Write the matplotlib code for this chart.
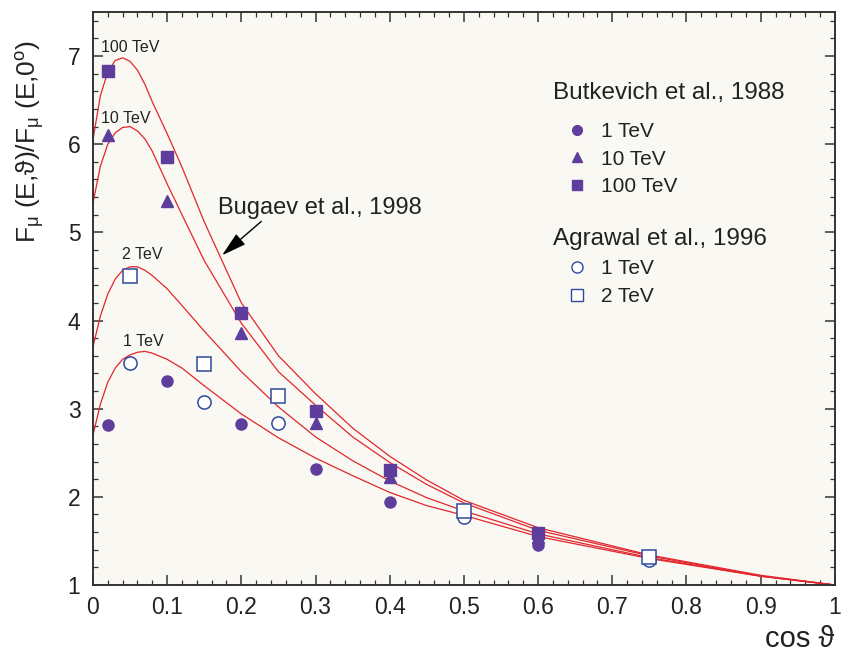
import matplotlib
matplotlib.use("Agg")
import matplotlib.pyplot as plt
from matplotlib.lines import Line2D
from matplotlib.ticker import MultipleLocator

plt.rcParams['font.family'] = ['Liberation Sans', 'DejaVu Sans']
plt.rcParams['mathtext.fontset'] = 'custom'
plt.rcParams['mathtext.rm'] = 'Liberation Sans'
plt.rcParams['mathtext.it'] = 'Liberation Sans'

# Bugaev et al., 1998 curves
curve_x = [0, 0.01, 0.02, 0.03, 0.04, 0.05, 0.06, 0.07, 0.08, 0.1, 0.12, 0.15,
           0.2, 0.25, 0.3, 0.35, 0.4, 0.45, 0.5, 0.6, 0.75, 0.9, 1.0]
curve_100tev = [6.05, 6.55, 6.82, 6.95, 6.98, 6.94, 6.84, 6.68, 6.48, 6.12, 5.74, 5.12,
                4.2, 3.6, 3.17, 2.78, 2.46, 2.19, 1.96, 1.65, 1.34, 1.11, 1.0]
curve_10tev = [5.33, 5.75, 6.0, 6.13, 6.19, 6.2, 6.15, 6.06, 5.92, 5.55, 5.2, 4.68,
               3.97, 3.42, 3.04, 2.68, 2.39, 2.14, 1.93, 1.62, 1.33, 1.1, 1.0]
curve_2tev = [3.70, 4.05, 4.3, 4.47, 4.57, 4.61, 4.61, 4.57, 4.51, 4.36, 4.17, 3.88,
              3.42, 3.02, 2.68, 2.41, 2.18, 1.99, 1.84, 1.58, 1.31, 1.1, 1.0]
curve_1tev = [2.70, 3.05, 3.3, 3.46, 3.56, 3.61, 3.64, 3.65, 3.63, 3.56, 3.46, 3.26,
              2.94, 2.67, 2.44, 2.24, 2.05, 1.9, 1.79, 1.55, 1.30, 1.1, 1.0]

# Butkevich et al., 1988
butk_x = [0.02, 0.1, 0.2, 0.3, 0.4, 0.6]
butk_1tev = [2.82, 3.31, 2.83, 2.32, 1.94, 1.45]
butk_10tev = [6.10, 5.36, 3.86, 2.84, 2.22, 1.55]
butk_100tev = [6.83, 5.85, 4.08, 2.97, 2.31, 1.59]

# Agrawal et al., 1996
agr_x = [0.05, 0.15, 0.25, 0.5, 0.75]
agr_1tev = [3.52, 3.08, 2.84, 1.77, 1.28]
agr_2tev = [4.51, 3.51, 3.14, 1.84, 1.32]

curve_labels = ['100 TeV', '10 TeV', '2 TeV', '1 TeV']
label_pos = [(0.011, 7.10), (0.011, 6.29), (0.039, 4.75), (0.040, 3.76)]

red = '#e3262d'
purple = '#5e3d9c'
blue = '#2f4a9e'
ink = '#222222'

fig = plt.figure(figsize=(8.45, 6.51), dpi=100)
ax = fig.add_axes([0.110, 0.1014, 0.878, 0.8802])
ax.set_facecolor('#f9f8f2')

for ys in [curve_100tev, curve_10tev, curve_2tev, curve_1tev]:
    ax.plot(curve_x, ys, color=red, lw=0.9, zorder=2)

ax.plot(butk_x, butk_1tev, 'o', color=purple, ms=8, mec=purple, zorder=3)
ax.plot(butk_x, butk_10tev, '^', color=purple, ms=8.5, mec=purple, zorder=3)
ax.plot(butk_x, butk_100tev, 's', color=purple, ms=8, mec=purple, zorder=3)
ax.plot(agr_x, agr_1tev, 'o', mfc='white', mec=blue, mew=1.1, ms=9.5, zorder=3)
ax.plot(agr_x, agr_2tev, 's', mfc='white', mec=blue, mew=1.1, ms=9.5, zorder=3)

for txt, (lx, ly) in zip(curve_labels, label_pos):
    ax.text(lx, ly, txt, fontsize=11.5, color=ink, ha='left', va='center')

ax.annotate('Bugaev et al., 1998', xy=(0.174, 4.74), xytext=(0.168, 5.28),
            fontsize=17, color=ink, ha='left', va='center',
            arrowprops=dict(arrowstyle='-|>,head_length=0.9,head_width=0.25',
                            color='black', lw=1.0, shrinkA=0, shrinkB=0,
                            relpos=(0.23, 0.0)))

ax.set_xlim(0, 1)
ax.set_ylim(1, 7.5)
ax.xaxis.set_minor_locator(MultipleLocator(0.02))
ax.yaxis.set_major_locator(MultipleLocator(1))
ax.yaxis.set_minor_locator(MultipleLocator(0.2))
ax.set_xticks([i / 10 for i in range(11)])
ax.set_xticklabels(['0', '0.1', '0.2', '0.3', '0.4', '0.5', '0.6', '0.7', '0.8', '0.9', '1'])
ax.tick_params(which='both', direction='in', top=True, right=True,
               color='#333333', labelsize=16.5, labelcolor=ink)
ax.tick_params(axis='x', which='major', pad=8)
ax.tick_params(axis='y', which='major', pad=9)
ax.tick_params(which='major', length=7.5, width=1.1)
ax.tick_params(which='minor', length=3.8, width=0.9)
for s in ax.spines.values():
    s.set_linewidth(1.4)
    s.set_color('#333333')

fig.text(0.988, 0.019, 'cos ϑ', fontsize=21, ha='right', va='center', color=ink)
fig.text(0.036, 0.782, r'F$_{\mathregular{\mu}}$ (E,ϑ)/F$_{\mathregular{\mu}}$ (E,0$^{\mathregular{o}}$)',
         fontsize=19, rotation=90, ha='center', va='center', color=ink)

# legend blocks: titles as text, entries as legends
ax.text(0.62, 0.859, 'Butkevich et al., 1988', transform=ax.transAxes,
        fontsize=17.5, color=ink, ha='left', va='center')
ax.text(0.62, 0.603, 'Agrawal et al., 1996', transform=ax.transAxes,
        fontsize=17.5, color=ink, ha='left', va='center')

h1 = [Line2D([], [], ls='none', marker='o', color=purple, ms=7),
      Line2D([], [], ls='none', marker='^', color=purple, ms=7),
      Line2D([], [], ls='none', marker='s', color=purple, ms=7)]
leg1 = ax.legend(h1, ['1 TeV', '10 TeV', '100 TeV'],
                 loc='upper left', bbox_to_anchor=(0.62, 0.808), frameon=False,
                 fontsize=15, handlelength=2.3, handletextpad=0.0, labelspacing=0.42,
                 borderpad=0, borderaxespad=0)
for t in leg1.get_texts():
    t.set_color(ink)
ax.add_artist(leg1)

h2 = [Line2D([], [], ls='none', marker='o', mfc='white', mec=blue, ms=8),
      Line2D([], [], ls='none', marker='s', mfc='white', mec=blue, ms=8)]
leg2 = ax.legend(h2, ['1 TeV', '2 TeV'],
                 loc='upper left', bbox_to_anchor=(0.62, 0.569), frameon=False,
                 fontsize=15, handlelength=2.3, handletextpad=0.0, labelspacing=0.45,
                 borderpad=0, borderaxespad=0)
for t in leg2.get_texts():
    t.set_color(ink)

fig.savefig('out.png', dpi=100)
